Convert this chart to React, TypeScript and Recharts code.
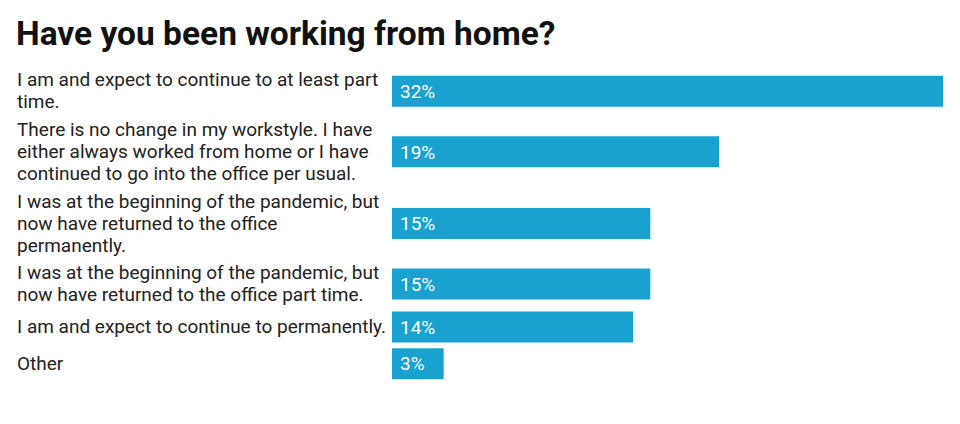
import { BarChart, Bar, XAxis, YAxis, LabelList } from 'recharts';

const CATEGORY_LINES: string[][] = [
  ['I am and expect to continue to at least part', 'time.'],
  [
    'There is no change in my workstyle. I have',
    'either always worked from home or I have',
    'continued to go into the office per usual.',
  ],
  ['I was at the beginning of the pandemic, but', 'now have returned to the office', 'permanently.'],
  ['I was at the beginning of the pandemic, but', 'now have returned to the office part time.'],
  ['I am and expect to continue to permanently.'],
  ['Other'],
];
const VALUES = [32, 19, 15, 15, 14, 3];

const LINE_H = 22;
const BAR_H = 31;
const ROW_GAP = 5.6;

// each row is as tall as its wrapped label (or the bar), plus a small gap
const rowHeights = CATEGORY_LINES.map((l) => Math.max(l.length * LINE_H, BAR_H) + ROW_GAP);
const TOTAL = rowHeights.reduce((a, b) => a + b, 0);
const positions = rowHeights.map((h, i) => rowHeights.slice(0, i).reduce((a, b) => a + b, 0) + h / 2);

const data = VALUES.map((v, i) => ({ pos: positions[i], value: v }));

function CategoryTick({ y, payload }: any) {
  const idx = positions.findIndex((p) => Math.abs(p - payload.value) < 0.01);
  const lines = idx >= 0 ? CATEGORY_LINES[idx] : [];
  const n = lines.length;
  return (
    <text x={17} y={y} fill="#222" fontSize={19} fontFamily="Roboto" textAnchor="start">
      {lines.map((line, i) => (
        <tspan key={i} x={17} y={y + (i - (n - 1) / 2) * LINE_H + 6.3}>
          {line}
        </tspan>
      ))}
    </text>
  );
}

export default function App() {
  return (
    <div style={{ position: 'absolute', left: 0, top: 0, width: 960, height: 424, background: '#fff', fontFamily: 'Roboto' }}>
      <div
        style={{
          position: 'absolute',
          left: 16,
          top: 12,
          fontSize: 33.5,
          fontWeight: 700,
          color: '#111',
          lineHeight: '44px',
          whiteSpace: 'nowrap',
        }}
      >
        Have you been working from home?
      </div>
      <BarChart
        width={960}
        height={424}
        data={data}
        layout="vertical"
        margin={{ top: 66.2, right: 17, bottom: 424 - 66.2 - TOTAL, left: 0 }}
      >
        <XAxis type="number" domain={[0, 32]} hide />
        <YAxis
          type="number"
          dataKey="pos"
          domain={[0, TOTAL]}
          ticks={positions}
          interval={0}
          width={392}
          axisLine={false}
          tickLine={false}
          tick={<CategoryTick />}
        />
        <Bar dataKey="value" fill="#19a2cf" barSize={BAR_H} isAnimationActive={false}>
          <LabelList
            dataKey="value"
            position="insideLeft"
            offset={8}
            fill="#fff"
            fontSize={19}
            fontFamily="Roboto"
            formatter={(v: any) => `${v}%`}
          />
        </Bar>
      </BarChart>
    </div>
  );
}
